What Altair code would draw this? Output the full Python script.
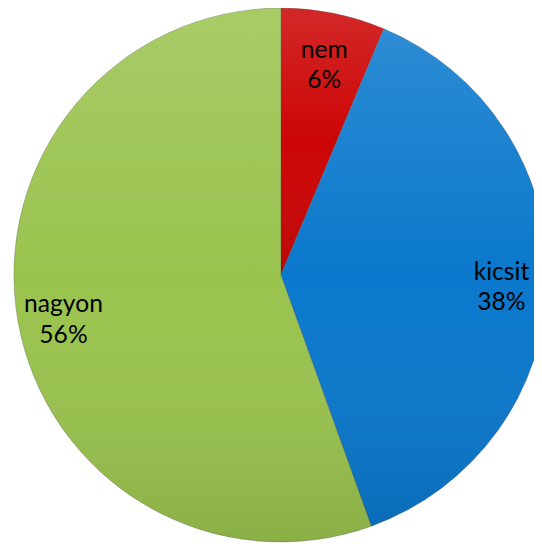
import altair as alt
import pandas as pd

categories = ["nem", "kicsit", "nagyon"]
values = [6.3, 38.2, 55.5]
pct_labels = ["6%", "38%", "56%"]
colors = ["#cc0505", "#0a78cc", "#9ac34e"]

df = pd.DataFrame({
    "cat": categories,
    "val": values,
    "idx": list(range(len(categories))),
    "label": [f"{c}\n{p}" for c, p in zip(categories, pct_labels)],
})

CX, CY, R = 277, 267, 271

base = alt.Chart(df).encode(
    theta=alt.Theta("val:Q", stack=True),
    order=alt.Order("idx:Q"),
    x=alt.value(CX),
    y=alt.value(CY),
)

arcs = base.mark_arc(outerRadius=R, stroke="#4a4a4a", strokeWidth=0.5, strokeOpacity=0.6).encode(
    color=alt.Color("cat:N", scale=alt.Scale(domain=categories, range=colors), legend=None),
)

shade = base.mark_arc(
    outerRadius=R,
    color={
        "gradient": "linear",
        "x1": 0, "y1": 0, "x2": 0, "y2": 1,
        "stops": [
            {"offset": 0, "color": "rgba(255,255,255,0.14)"},
            {"offset": 0.5, "color": "rgba(255,255,255,0.0)"},
            {"offset": 1, "color": "rgba(0,0,0,0.10)"},
        ],
    },
)

text = base.mark_text(
    radius=224, font="Lato", fontSize=25, color="#000000", lineBreak="\n",
    lineHeight=31, baseline="middle", align="center", dy=-9,
).encode(text="label:N")

chart = (arcs + shade + text).properties(
    width=534, height=538, padding=0, autosize=alt.AutoSizeParams(type="none")
).configure_view(stroke=None)

chart.save("out.html", embed_options={"renderer": "svg", "actions": False})
